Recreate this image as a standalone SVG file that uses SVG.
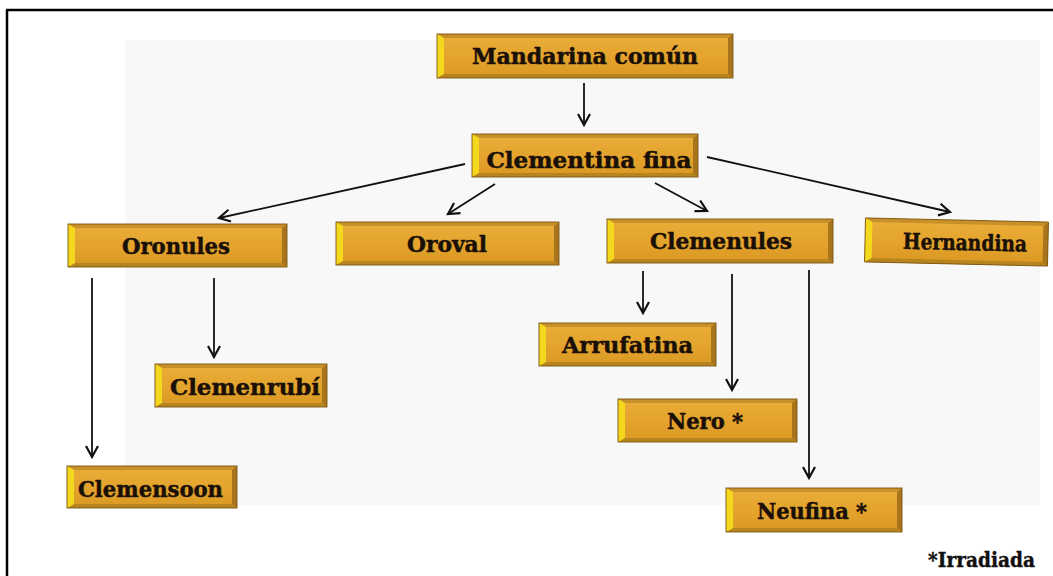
<svg xmlns="http://www.w3.org/2000/svg" width="1053" height="576" viewBox="0 0 1053 576">
<defs>
<linearGradient id="gold" x1="0" y1="0" x2="0" y2="1">
<stop offset="0" stop-color="#EAAE38"/>
<stop offset="0.5" stop-color="#E4A42E"/>
<stop offset="1" stop-color="#DA9822"/>
</linearGradient>
<marker id="arr" markerUnits="userSpaceOnUse" markerWidth="16" markerHeight="16" refX="12" refY="7" orient="auto" viewBox="0 0 16 14">
<path d="M1,1 L12,7 L1,13" fill="none" stroke="#111" stroke-width="2.2"/>
</marker>
</defs>
<style>
.body{fill:url(#gold);}
.L{fill:#F4D81E;}
.R{fill:#A8741C;}
.T{fill:#C8902A;}
.B{fill:#B8841F;}
.ol{fill:none;stroke:#7A5410;stroke-width:0.9;}
.t{font-family:"DejaVu Serif","Liberation Serif",serif;font-weight:bold;font-size:22px;fill:#1a1008;stroke:#1a1008;stroke-width:0.5;text-anchor:middle;}
.c{fill:none;stroke:#111;stroke-width:1.8;marker-end:url(#arr);}
</style>
<rect x="0" y="0" width="1053" height="576" fill="#ffffff"/>
<rect x="125" y="40" width="915" height="465" fill="#F8F8F8"/>
<path d="M6,10 H1053 M7,10 V576" fill="none" stroke="#000" stroke-width="2.5"/>

<g id="connectors">
<line class="c" x1="584" y1="83" x2="584" y2="125"/>
<line class="c" x1="465" y1="164" x2="219" y2="218"/>
<line class="c" x1="495" y1="184" x2="448" y2="214"/>
<line class="c" x1="655" y1="183" x2="707" y2="211"/>
<line class="c" x1="707" y1="157" x2="950" y2="212"/>
<line class="c" x1="92" y1="278" x2="92" y2="457"/>
<line class="c" x1="214" y1="278" x2="214" y2="357"/>
<line class="c" x1="643" y1="271" x2="643" y2="313"/>
<line class="c" x1="732" y1="274" x2="732" y2="390"/>
<line class="c" x1="809" y1="270" x2="809" y2="478"/>
</g>

<g id="mandarina">
<rect class="body" x="437" y="34" width="296" height="44"/>
<polygon class="T" points="437,34 733,34 728,38 444,38"/>
<polygon class="B" points="437,78 733,78 728,74 444,74"/>
<polygon class="L" points="437,34 444,38 444,74 437,78"/>
<polygon class="R" points="733,34 728,38 728,74 733,78"/>
<rect class="ol" x="437" y="34" width="296" height="44"/>
<text class="t" x="585" y="64" textLength="226" lengthAdjust="spacingAndGlyphs">Mandarina común</text>
</g>

<g id="clementina">
<rect class="body" x="472" y="134" width="226" height="43"/>
<polygon class="T" points="472,134 698,134 693,138 479,138"/>
<polygon class="B" points="472,177 698,177 693,173 479,173"/>
<polygon class="L" points="472,134 479,138 479,173 472,177"/>
<polygon class="R" points="698,134 693,138 693,173 698,177"/>
<rect class="ol" x="472" y="134" width="226" height="43"/>
<text class="t" x="589" y="168" textLength="205" lengthAdjust="spacingAndGlyphs">Clementina fina</text>
</g>

<g id="oronules">
<rect class="body" x="68" y="224" width="219" height="43"/>
<polygon class="T" points="68,224 287,224 282,228 75,228"/>
<polygon class="B" points="68,267 287,267 282,263 75,263"/>
<polygon class="L" points="68,224 75,228 75,263 68,267"/>
<polygon class="R" points="287,224 282,228 282,263 287,267"/>
<rect class="ol" x="68" y="224" width="219" height="43"/>
<text class="t" x="176" y="254" textLength="108" lengthAdjust="spacingAndGlyphs">Oronules</text>
</g>

<g id="oroval">
<rect class="body" x="336" y="222" width="223" height="43"/>
<polygon class="T" points="336,222 559,222 554,226 343,226"/>
<polygon class="B" points="336,265 559,265 554,261 343,261"/>
<polygon class="L" points="336,222 343,226 343,261 336,265"/>
<polygon class="R" points="559,222 554,226 554,261 559,265"/>
<rect class="ol" x="336" y="222" width="223" height="43"/>
<text class="t" x="447" y="252" textLength="80" lengthAdjust="spacingAndGlyphs">Oroval</text>
</g>

<g id="clemenules">
<rect class="body" x="607" y="219" width="226" height="44"/>
<polygon class="T" points="607,219 833,219 828,223 614,223"/>
<polygon class="B" points="607,263 833,263 828,259 614,259"/>
<polygon class="L" points="607,219 614,223 614,259 607,263"/>
<polygon class="R" points="833,219 828,223 828,259 833,263"/>
<rect class="ol" x="607" y="219" width="226" height="44"/>
<text class="t" x="721" y="249" textLength="142" lengthAdjust="spacingAndGlyphs">Clemenules</text>
</g>

<g id="hernandina" transform="rotate(1.3 956 242)">
<rect class="body" x="865" y="220" width="183" height="44"/>
<polygon class="T" points="865,220 1048,220 1043,224 872,224"/>
<polygon class="B" points="865,264 1048,264 1043,260 872,260"/>
<polygon class="L" points="865,220 872,224 872,260 865,264"/>
<polygon class="R" points="1048,220 1043,224 1043,260 1048,264"/>
<rect class="ol" x="865" y="220" width="183" height="44"/>
<text class="t" x="965" y="250" textLength="124" lengthAdjust="spacingAndGlyphs">Hernandina</text>
</g>

<g id="clemenrubi">
<rect class="body" x="155" y="364" width="172" height="43"/>
<polygon class="T" points="155,364 327,364 322,368 162,368"/>
<polygon class="B" points="155,407 327,407 322,403 162,403"/>
<polygon class="L" points="155,364 162,368 162,403 155,407"/>
<polygon class="R" points="327,364 322,368 322,403 327,407"/>
<rect class="ol" x="155" y="364" width="172" height="43"/>
<text class="t" x="245" y="395" textLength="150" lengthAdjust="spacingAndGlyphs">Clemenrubí</text>
</g>

<g id="clemensoon">
<rect class="body" x="67" y="466" width="170" height="42"/>
<polygon class="T" points="67,466 237,466 232,470 74,470"/>
<polygon class="B" points="67,508 237,508 232,504 74,504"/>
<polygon class="L" points="67,466 74,470 74,504 67,508"/>
<polygon class="R" points="237,466 232,470 232,504 237,508"/>
<rect class="ol" x="67" y="466" width="170" height="42"/>
<text class="t" x="150.5" y="497" textLength="145" lengthAdjust="spacingAndGlyphs">Clemensoon</text>
</g>

<g id="arrufatina">
<rect class="body" x="539" y="323" width="177" height="43"/>
<polygon class="T" points="539,323 716,323 711,327 546,327"/>
<polygon class="B" points="539,366 716,366 711,362 546,362"/>
<polygon class="L" points="539,323 546,327 546,362 539,366"/>
<polygon class="R" points="716,323 711,327 711,362 716,366"/>
<rect class="ol" x="539" y="323" width="177" height="43"/>
<text class="t" x="627.5" y="353" textLength="131" lengthAdjust="spacingAndGlyphs">Arrufatina</text>
</g>

<g id="nero">
<rect class="body" x="618" y="399" width="179" height="43"/>
<polygon class="T" points="618,399 797,399 792,403 625,403"/>
<polygon class="B" points="618,442 797,442 792,438 625,438"/>
<polygon class="L" points="618,399 625,403 625,438 618,442"/>
<polygon class="R" points="797,399 792,403 792,438 797,442"/>
<rect class="ol" x="618" y="399" width="179" height="43"/>
<text class="t" x="705" y="429" textLength="76" lengthAdjust="spacingAndGlyphs">Nero *</text>
</g>

<g id="neufina">
<rect class="body" x="726" y="488" width="176" height="44"/>
<polygon class="T" points="726,488 902,488 897,492 733,492"/>
<polygon class="B" points="726,532 902,532 897,528 733,528"/>
<polygon class="L" points="726,488 733,492 733,528 726,532"/>
<polygon class="R" points="902,488 897,492 897,528 902,532"/>
<rect class="ol" x="726" y="488" width="176" height="44"/>
<text class="t" x="812" y="519" textLength="110" lengthAdjust="spacingAndGlyphs">Neufina *</text>
</g>

<g id="legend">
<text x="928" y="567" font-family="DejaVu Serif, Liberation Serif, serif" font-weight="bold" font-size="20" fill="#111" stroke="#111" stroke-width="0.4" textLength="107" lengthAdjust="spacingAndGlyphs">*Irradiada</text>
</g>
</svg>
